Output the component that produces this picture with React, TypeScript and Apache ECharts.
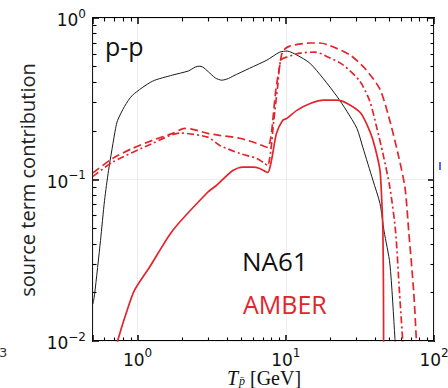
import React, { useEffect, useRef } from "react";
import * as echarts from "echarts";

// Axis ranges (log-log)
const xRange: [number, number] = [0.5, 100];
const yRange: [number, number] = [0.01, 1];

// NA61 (black, solid)
const na61: [number, number][] = [
  [0.5, 0.017], [0.512, 0.0193], [0.562, 0.042], [0.598, 0.074], [0.637, 0.114],
  [0.71, 0.207], [0.733, 0.2325], [0.817, 0.284], [0.925, 0.333], [1.26, 0.406],
  [1.72, 0.443], [2.2, 0.47], [2.45, 0.497], [2.6, 0.503], [2.75, 0.497],
  [3.0, 0.465], [3.35, 0.425], [3.7, 0.412], [4.1, 0.422], [4.39, 0.436],
  [5.71, 0.489], [7.44, 0.548], [9.11, 0.615], [10.2, 0.624], [11.9, 0.589],
  [14.5, 0.526], [17.8, 0.424], [22.1, 0.328], [25.8, 0.265], [30.2, 0.207],
  [33.1, 0.158], [38.7, 0.099], [43.2, 0.071], [46.0, 0.048], [50.4, 0.03],
  [54.5, 0.0104], [55.0, 0.009],
];

// AMBER solid (red)
const amberSolid: [number, number][] = [
  [0.72, 0.009], [0.733, 0.01], [0.834, 0.0147], [0.95, 0.0205], [1.2, 0.0285],
  [1.72, 0.0482], [2.97, 0.0834], [3.4, 0.0918], [4.39, 0.1137], [5.12, 0.1192],
  [5.98, 0.1192], [6.67, 0.117], [7.55, 0.1105], [8.0, 0.131], [8.65, 0.193],
  [9.54, 0.2325], [10.16, 0.239], [11.87, 0.268], [14.75, 0.2965], [18.06, 0.31],
  [22.1, 0.31], [25.8, 0.2965], [32.1, 0.257], [37.2, 0.195], [40.0, 0.158],
  [43.2, 0.114], [44.5, 0.071], [45.2, 0.048], [45.6, 0.02], [45.7, 0.009],
];

// AMBER dashed (red)
const amberDashed: [number, number][] = [
  [0.5, 0.11], [0.678, 0.135], [0.925, 0.156], [1.263, 0.175], [1.724, 0.193],
  [2.078, 0.207], [2.353, 0.2045], [2.97, 0.193], [3.58, 0.1876], [4.89, 0.18],
  [6.37, 0.1674], [7.55, 0.158], [7.92, 0.1824], [8.17, 0.2325], [8.56, 0.357],
  [9.11, 0.511], [9.54, 0.624], [10.64, 0.67], [14.5, 0.7], [17.0, 0.7],
  [19.8, 0.675], [27.0, 0.592], [34.0, 0.49], [43.0, 0.365], [49.5, 0.245],
  [57.1, 0.145], [63.7, 0.0892], [67.5, 0.048], [73.0, 0.02], [76.5, 0.009],
];

// AMBER dash-dotted (red)
const amberDashDot: [number, number][] = [
  [0.5, 0.1045], [0.678, 0.128], [1.263, 0.1674], [1.92, 0.194], [2.97, 0.183],
  [3.58, 0.1626], [4.89, 0.145], [6.37, 0.135], [7.21, 0.1257], [7.55, 0.122],
  [7.92, 0.151], [8.3, 0.2325], [8.83, 0.384], [9.25, 0.548], [10.16, 0.573],
  [12.43, 0.606], [15.7, 0.615], [18.9, 0.578], [24.3, 0.513], [31.6, 0.406],
  [36.9, 0.305], [41.2, 0.2073], [45.2, 0.145], [50.4, 0.0892], [55.0, 0.048],
  [58.5, 0.02], [62.0, 0.009],
];

const RED = "#e3242b";
const BLACK = "#1a1a1a";

function isPow10(v: number): boolean {
  const l = Math.log10(v);
  return Math.abs(l - Math.round(l)) < 1e-6;
}

function powLabel(v: number): string {
  if (!isPow10(v)) return "";
  const r = Math.round(Math.log10(v));
  const exp = r < 0 ? "\u2212" + Math.abs(r) : String(r);
  return "{b|10}{s|" + exp + "}";
}

const labelRich = {
  b: { fontSize: 17, fontFamily: "DejaVu Sans", color: "#111", verticalAlign: "bottom" },
  s: { fontSize: 12, fontFamily: "DejaVu Sans", color: "#111", verticalAlign: "bottom", padding: [0, 0, 9, 0] },
};

function logAxis(range: [number, number], position: string, withLabels: boolean, margin: number) {
  return {
    type: "log",
    logBase: 10,
    min: range[0],
    max: range[1],
    position,
    axisLine: { show: false },
    axisTick: { show: true, inside: true, length: 6, lineStyle: { color: "#000", width: 1.5 } },
    minorTick: { show: true, splitNumber: 9, length: 3.5, lineStyle: { color: "#000", width: 1.1 } },
    splitLine: { show: withLabels, lineStyle: { color: "#ececec", width: 1 } },
    minorSplitLine: { show: false },
    axisLabel: withLabels
      ? { show: true, margin, formatter: powLabel, rich: labelRich, showMinLabel: true, showMaxLabel: true }
      : { show: false },
  };
}

export default function App() {
  const ref = useRef<HTMLDivElement>(null);
  useEffect(() => {
    if (!ref.current) return;
    const chart = echarts.init(ref.current, undefined, { renderer: "svg" });
    const lineSeries = (name: string, data: [number, number][], color: string, width: number, type: any) => ({
      name,
      type: "line",
      xAxisIndex: 0,
      yAxisIndex: 0,
      data,
      showSymbol: false,
      symbol: "none",
      smooth: 0.25,
      clip: true,
      lineStyle: { color, width, type },
      z: 3,
    });
    chart.setOption({
      animation: false,
      backgroundColor: "#ffffff",
      grid: {
        left: 93, right: 14, top: 18, bottom: 47,
        show: true, borderColor: "#000", borderWidth: 1.8,
        containLabel: false, outerBoundsMode: "none",
      },
      xAxis: [
        logAxis(xRange, "bottom", true, 6),
        logAxis(xRange, "top", false, 6),
      ],
      yAxis: [
        logAxis(yRange, "left", true, 7),
        logAxis(yRange, "right", false, 7),
      ],
      series: [
        lineSeries("NA61", na61, BLACK, 1, "solid"),
        lineSeries("AMBER", amberSolid, RED, 1.7, "solid"),
        lineSeries("AMBER dashed", amberDashed, RED, 1.7, [8, 4]),
        lineSeries("AMBER dash-dot", amberDashDot, RED, 1.7, [7, 3, 2, 3]),
      ],
      graphic: [
        {
          type: "text", x: 105, y: 46, z: 20,
          style: { text: "p-p", font: '25px "Open Sans"', fill: "#111", verticalAlign: "middle" },
        },
        {
          type: "text", x: 242, y: 261, z: 20,
          style: { text: "NA61", font: '26px "Open Sans"', fill: "#111", verticalAlign: "middle" },
        },
        {
          type: "text", x: 243, y: 304, z: 20,
          style: { text: "AMBER", font: '25px "Open Sans"', fill: RED, verticalAlign: "middle" },
        },
        {
          type: "text", x: 27, y: 180, rotation: Math.PI / 2, z: 20,
          style: { text: "source term contribution", font: '20px "Open Sans"', fill: "#222", align: "center", verticalAlign: "middle" },
        },
        {
          type: "text", x: 227, y: 378, z: 20,
          style: { text: "T", font: 'italic 20px "Liberation Serif"', fill: "#111", verticalAlign: "middle" },
        },
        {
          type: "text", x: 239, y: 381, z: 20,
          style: { text: "p\u0304", font: 'italic 12px "Liberation Serif"', fill: "#111", verticalAlign: "middle" },
        },
        {
          type: "text", x: 250, y: 378, z: 20,
          style: { text: "[GeV]", font: '20px "Liberation Serif"', fill: "#111", verticalAlign: "middle" },
        },
        {
          type: "text", x: -1, y: 352, z: 20,
          style: { text: "3", font: '13px "DejaVu Sans"', fill: "#333", verticalAlign: "middle" },
        },
        {
          type: "rect", shape: { x: 439, y: 162, width: 2, height: 8 }, z: 20,
          style: { fill: "#5565ff" },
        },
      ],
    });
    return () => chart.dispose();
  }, []);
  return (
    <div
      ref={ref}
      style={{ position: "absolute", left: 0, top: 0, width: 448, height: 388, background: "#fff" }}
    />
  );
}
